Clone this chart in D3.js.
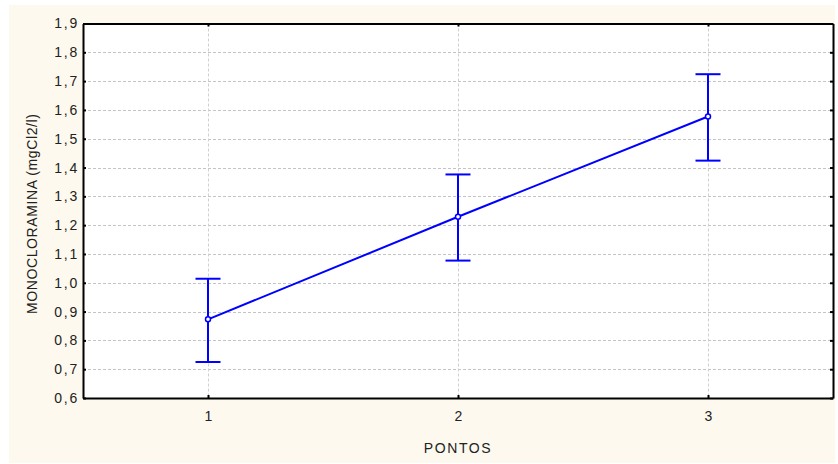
<!DOCTYPE html>
<html><head><meta charset="utf-8">
<script src="https://cdn.jsdelivr.net/npm/d3@7"></script>
<style>
html,body{margin:0;padding:0;background:#fff;}
svg{display:block;font-family:"Liberation Sans",Arial,sans-serif;}
</style></head>
<body>
<svg id="chart" width="838" height="464"></svg>
<script>
const categories = ["1", "2", "3"];
const means = [0.873, 1.229, 1.577];
const lower = [0.725, 1.077, 1.424];
const upper = [1.014, 1.376, 1.724];
const yTicks = [0.6,0.7,0.8,0.9,1.0,1.1,1.2,1.3,1.4,1.5,1.6,1.7,1.8,1.9];
const xTitle = "PONTOS";
const yTitle = "MONOCLORAMINA (mgCl2/l)";

const svg = d3.select("#chart");
const W = 838, H = 464;
const m = {left: 83, right: 5, top: 23.5, bottom: 66};
const pw = 750, ph = 374.5;

svg.append("rect").attr("x",9).attr("y",5).attr("width",826).attr("height",458).attr("fill","#fdf9ee");

const x = d3.scaleLinear().domain([0.5, 3.5]).range([m.left, m.left+pw]);
const y = d3.scaleLinear().domain([0.6, 1.9]).range([m.top+ph, m.top]);

const g = svg.append("g");
g.append("rect").attr("x",m.left).attr("y",m.top).attr("width",pw).attr("height",ph).attr("fill","#fff");

// grid
g.selectAll(".hg").data(yTicks.slice(1,-1)).join("line")
  .attr("x1",m.left).attr("x2",m.left+pw)
  .attr("y1",d=>Math.round(y(d))+0.5).attr("y2",d=>Math.round(y(d))+0.5)
  .attr("stroke","#c4c4c4").attr("stroke-dasharray","3,2").attr("stroke-width",1);
g.selectAll(".vg").data(categories).join("line")
  .attr("x1",(d,i)=>Math.round(x(i+1))+0.5).attr("x2",(d,i)=>Math.round(x(i+1))+0.5)
  .attr("y1",m.top).attr("y2",m.top+ph)
  .attr("stroke","#d0d0d0").attr("stroke-dasharray","3,2").attr("stroke-width",1);

// axes
const fmt = d => d3.format(".1f")(d).replace(".", ",");
const yAxis = d3.axisLeft(y).tickValues(yTicks).tickFormat(fmt).tickSizeInner(-3).tickSizeOuter(0).tickPadding(4);
const yg = g.append("g").attr("transform",`translate(${m.left},0)`).call(yAxis);
const yAxisR = d3.axisRight(y).tickValues(yTicks).tickFormat("").tickSizeInner(-3).tickSizeOuter(0);
const yr = g.append("g").attr("transform",`translate(${m.left+pw},0)`).call(yAxisR);
const xAxis = d3.axisBottom(x).tickValues([1,2,3]).tickFormat((d)=>categories[d-1]).tickSizeInner(-3).tickSizeOuter(0).tickPadding(13);
const xg = g.append("g").attr("transform",`translate(0,${m.top+ph})`).call(xAxis);
const xAxisT = d3.axisTop(x).tickValues([1,2,3]).tickFormat("").tickSizeInner(-3).tickSizeOuter(0);
const xt = g.append("g").attr("transform",`translate(0,${m.top})`).call(xAxisT);
[yg,yr,xg,xt].forEach(a=>{
  a.attr("font-size",14).attr("font-family","Liberation Sans, Arial, sans-serif");
  a.select(".domain").attr("stroke","#000").attr("stroke-width",2);
  a.selectAll(".tick line").attr("stroke","#000").attr("stroke-width",2);
  a.selectAll("text").attr("fill","#222").attr("letter-spacing",1.8);
});
xg.selectAll("text").attr("letter-spacing",0);

// titles
svg.append("text").attr("x",m.left+pw/2).attr("y",453).attr("text-anchor","middle")
  .attr("font-size",14).attr("letter-spacing",1.6).attr("fill","#222").text(xTitle);
svg.append("text").attr("transform",`translate(37,${m.top+ph/2+3}) rotate(-90)`).attr("text-anchor","middle")
  .attr("font-size",14).attr("letter-spacing",0.6).attr("fill","#222").text(yTitle);

// data
const blue = "#0000ff";
const pts = categories.map((c,i)=>({i:i+1, m:means[i], lo:lower[i], hi:upper[i]}));
g.append("path").datum(pts).attr("fill","none").attr("stroke",blue).attr("stroke-width",2)
  .attr("d", d3.line().x(d=>x(d.i)).y(d=>y(d.m)));
const eb = g.selectAll(".eb").data(pts).join("g");
eb.append("line").attr("x1",d=>x(d.i)).attr("x2",d=>x(d.i)).attr("y1",d=>y(d.lo)).attr("y2",d=>y(d.hi))
  .attr("stroke",blue).attr("stroke-width",2);
eb.append("line").attr("x1",d=>x(d.i)-12.5).attr("x2",d=>x(d.i)+12.5).attr("y1",d=>y(d.hi)).attr("y2",d=>y(d.hi))
  .attr("stroke",blue).attr("stroke-width",2);
eb.append("line").attr("x1",d=>x(d.i)-12.5).attr("x2",d=>x(d.i)+12.5).attr("y1",d=>y(d.lo)).attr("y2",d=>y(d.lo))
  .attr("stroke",blue).attr("stroke-width",2);
eb.append("circle").attr("cx",d=>x(d.i)).attr("cy",d=>y(d.m)).attr("r",2.5)
  .attr("fill","#fff").attr("stroke",blue).attr("stroke-width",1.5);
</script>
</body></html>
